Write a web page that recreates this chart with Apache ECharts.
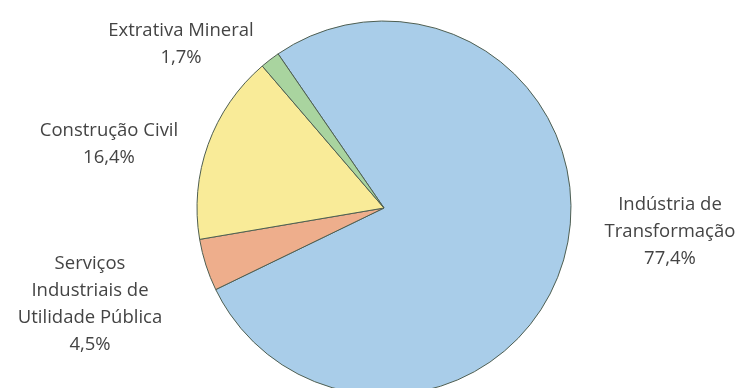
<!DOCTYPE html>
<html>
<head>
<meta charset="utf-8">
<script src="https://cdn.jsdelivr.net/npm/echarts@6/dist/echarts.min.js"></script>
<style>
  html, body { margin: 0; padding: 0; background: #fff; }
  #chart { width: 741px; height: 388px; }
</style>
</head>
<body>
<div id="chart"></div>
<script>
// Participação dos setores industriais (%)
const categories = [
  'Indústria de\nTransformação',
  'Serviços\nIndustriais de\nUtilidade Pública',
  'Construção Civil',
  'Extrativa Mineral'
];
const shares = [77.4, 4.5, 16.4, 1.7];
const sliceColors = ['#a9cde9', '#eeae8c', '#f9eb98', '#a9d49f'];

// Label anchor (block centre) for each slice, in pixels
const labelAnchors = [
  [670, 232],
  [90, 304],
  [109, 144],
  [181, 44]
];

const chart = echarts.init(document.getElementById('chart'));
chart.setOption({
  backgroundColor: '#ffffff',
  animation: false,
  series: [{
    type: 'pie',
    center: [384, 208],
    radius: [0, 187],
    startAngle: 124.5,
    clockwise: true,
    avoidLabelOverlap: false,
    data: categories.map((name, i) => ({
      name: name,
      value: shares[i],
      itemStyle: { color: sliceColors[i] }
    })),
    itemStyle: {
      borderColor: '#4f5f52',
      borderWidth: 1
    },
    label: {
      show: true,
      position: 'outside',
      fontFamily: 'Open Sans',
      fontSize: 18.5,
      lineHeight: 27,
      color: '#444444',
      align: 'center',
      formatter: p => p.name + '\n' + p.value.toFixed(1).replace('.', ',') + '%'
    },
    labelLine: { show: false },
    labelLayout: function (params) {
      const a = labelAnchors[params.dataIndex];
      return { x: a[0], y: a[1], align: 'center', verticalAlign: 'middle', hideOverlap: false };
    },
    emphasis: { disabled: true }
  }]
});
</script>
</body>
</html>
